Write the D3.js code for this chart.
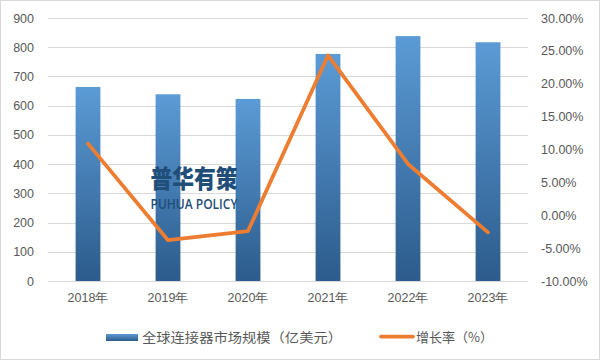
<!DOCTYPE html>
<html><head><meta charset="utf-8">
<script src="https://cdn.jsdelivr.net/npm/d3@7"></script>
<style>
html,body{margin:0;padding:0;background:#fff;}
svg{display:block;font-family:"Open Sans","Noto Sans CJK SC",sans-serif;}
</style></head>
<body>
<svg id="chart" width="601" height="361"></svg>
<script>
const categories = ["2018年","2019年","2020年","2021年","2022年","2023年"];
const marketSize = [664, 639, 623, 777, 838, 817];
const growthRate = [10.9, -3.8, -2.4, 24.3, 7.8, -2.6];
const leftTicks = [0,100,200,300,400,500,600,700,800,900];
const rightTicks = [-10,-5,0,5,10,15,20,25,30];
const seriesNames = ["全球连接器市场规模（亿美元）","增长率（%）"];

const svg = d3.select("#chart");
const W = 601, H = 361;
const m = {left:48, right:73, top:18, bottom:80};
const pw = W - m.left - m.right, ph = H - m.top - m.bottom;

svg.append("rect").attr("x",0.5).attr("y",0.5).attr("width",W-2).attr("height",H-2)
  .attr("fill","#fff").attr("stroke","#d9d9d9");

const defs = svg.append("defs");
const grad = defs.append("linearGradient").attr("id","barGrad").attr("x1",0).attr("y1",0).attr("x2",0).attr("y2",1);
grad.append("stop").attr("offset","0%").attr("stop-color","#5B9BD5");
grad.append("stop").attr("offset","100%").attr("stop-color","#2C5B8C");
const grad2 = defs.append("linearGradient").attr("id","legGrad").attr("x1",0).attr("y1",0).attr("x2",0).attr("y2",1);
grad2.append("stop").attr("offset","0%").attr("stop-color","#5B9BD5");
grad2.append("stop").attr("offset","100%").attr("stop-color","#2C5B8C");

const g = svg.append("g").attr("transform",`translate(${m.left},${m.top})`);
const x = d3.scaleBand().domain(categories).range([0,pw]).paddingInner(0.69).paddingOuter(0.345);
const y = d3.scaleLinear().domain([0,900]).range([ph,0]);
const y2 = d3.scaleLinear().domain([-10,30]).range([ph,0]);

// gridlines
g.append("g").selectAll("line").data(leftTicks).join("line")
  .attr("x1",0).attr("x2",pw).attr("y1",d=>Math.round(y(d))+0.5).attr("y2",d=>Math.round(y(d))+0.5)
  .attr("stroke","#d9d9d9").attr("stroke-width",1);

// left axis
const la = g.append("g").call(d3.axisLeft(y).tickValues(leftTicks).tickSize(0).tickPadding(14));
la.select(".domain").remove();
la.selectAll("text").attr("fill","#595959").style("font-size","12.5px");

// right axis
const ra = g.append("g").attr("transform",`translate(${pw},0)`)
  .call(d3.axisRight(y2).tickValues(rightTicks).tickSize(0).tickPadding(13).tickFormat(d=>d.toFixed(2)+"%"));
ra.select(".domain").remove();
ra.selectAll("text").attr("fill","#595959").style("font-size","12.5px");

// x axis
const xa = g.append("g").attr("transform",`translate(0,${ph})`).call(d3.axisBottom(x).tickSize(0).tickPadding(12));
xa.select(".domain").remove();
xa.selectAll("text").attr("fill","#595959").style("font-size","12.5px");

// bars
g.append("g").selectAll("rect").data(marketSize).join("rect")
  .attr("x",(d,i)=>x(categories[i])).attr("width",x.bandwidth())
  .attr("y",d=>y(d)).attr("height",d=>ph-y(d)).attr("fill","url(#barGrad)");

// watermark
const wm = svg.append("g");
wm.append("text").attr("x",194).attr("y",188).attr("text-anchor","middle")
  .attr("fill","#1F4E79").style("font-family","'Noto Sans CJK SC',sans-serif").style("font-weight","900")
  .style("font-size","25px").attr("textLength",87).attr("lengthAdjust","spacingAndGlyphs").text("普华有策");
wm.append("text").attr("x",194).attr("y",209).attr("text-anchor","middle")
  .attr("fill","#1F4E79").style("font-family","'Open Sans',sans-serif").style("font-size","14px").style("font-weight","600")
  .attr("textLength",87).attr("lengthAdjust","spacingAndGlyphs").text("PUHUA POLICY");

// line
const line = d3.line().x((d,i)=>x(categories[i])+x.bandwidth()/2).y(d=>y2(d));
g.append("path").datum(growthRate).attr("d",line).attr("fill","none")
  .attr("stroke","#ED7D31").attr("stroke-width",3.75).attr("stroke-linejoin","round").attr("stroke-linecap","round");

// legend
const lg = svg.append("g").style("font-family","'Noto Sans CJK SC',sans-serif");
lg.append("rect").attr("x",106).attr("y",334).attr("width",32).attr("height",7).attr("fill","url(#legGrad)");
lg.append("text").attr("x",142).attr("y",342).attr("fill","#595959").style("font-size","13px")
  .attr("textLength",200).attr("lengthAdjust","spacingAndGlyphs").text(seriesNames[0]);
lg.append("line").attr("x1",381).attr("x2",413).attr("y1",336.5).attr("y2",336.5)
  .attr("stroke","#ED7D31").attr("stroke-width",3.75).attr("stroke-linecap","round");
lg.append("text").attr("x",416).attr("y",342).attr("fill","#595959").style("font-size","13px")
  .attr("textLength",77).attr("lengthAdjust","spacingAndGlyphs").text(seriesNames[1]);
</script>
</body></html>
